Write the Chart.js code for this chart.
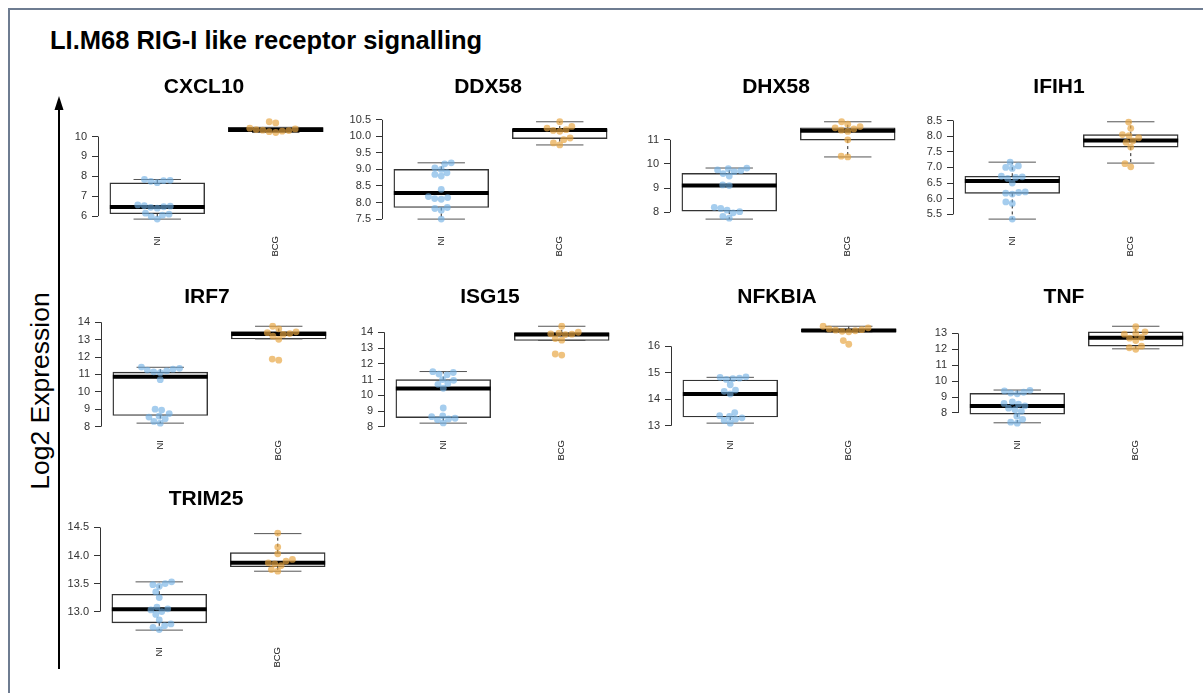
<!DOCTYPE html>
<html>
<head>
<meta charset="utf-8">
<script src="https://cdn.jsdelivr.net/npm/chart.js@4.4.1/dist/chart.umd.min.js"></script>
<style>
  body { margin: 0; background: #fff; width: 1203px; height: 693px; overflow: hidden; position: relative; font-family: "Liberation Sans", Arial, sans-serif; }
  #frame { position: absolute; left: 8px; top: 8px; width: 1220px; height: 720px; border-left: 2px solid #6e7c91; border-top: 2px solid #6e7c91; }
  #title { position: absolute; left: 50px; top: 28px; font-weight: bold; font-size: 25.5px; line-height: 1; white-space: nowrap; }
  #ylab { position: absolute; left: 40px; top: 391px; font-size: 26.5px; white-space: nowrap; transform: translate(-50%, -50%) rotate(-90deg); }
  #arrow { position: absolute; left: 0; top: 0; }
  canvas { position: absolute; }
</style>
</head>
<body>
<div id="frame"></div>
<div id="title">LI.M68 RIG-I like receptor signalling</div>
<div id="ylab">Log2 Expression</div>
<svg id="arrow" width="100" height="693">
  <line x1="59" y1="669" x2="59" y2="106" stroke="#000" stroke-width="2"/>
  <polygon points="59,96 54.5,110 63.5,110" fill="#000"/>
</svg>
<script>
// groups and genes
const groups = ['NI', 'BCG'];
const genes = ['CXCL10', 'DDX58', 'DHX58', 'IFIH1', 'IRF7', 'ISG15', 'NFKBIA', 'TNF', 'TRIM25'];

// y tick labels per gene
const yTickLabels = [
  ['6', '7', '8', '9', '10'],
  ['7.5', '8.0', '8.5', '9.0', '9.5', '10.0', '10.5'],
  ['8', '9', '10', '11'],
  ['5.5', '6.0', '6.5', '7.0', '7.5', '8.0', '8.5'],
  ['8', '9', '10', '11', '12', '13', '14'],
  ['8', '9', '10', '11', '12', '13', '14'],
  ['13', '14', '15', '16'],
  ['8', '9', '10', '11', '12', '13'],
  ['13.0', '13.5', '14.0', '14.5']
];

// individual samples (log2 expression)
const niValues = [
  [7.84, 7.80, 7.78, 7.75, 7.68, 6.56, 6.52, 6.50, 6.47, 6.44, 6.40, 6.15, 6.10, 6.05, 5.98, 5.85],
  [9.20, 9.17, 9.05, 9.00, 8.90, 8.85, 8.80, 8.40, 8.18, 8.15, 8.12, 8.10, 7.85, 7.82, 7.77, 7.50],
  [9.83, 9.80, 9.75, 9.72, 9.68, 9.60, 9.50, 9.13, 9.10, 8.20, 8.15, 8.08, 8.02, 7.97, 7.82, 7.75],
  [7.17, 7.05, 7.00, 6.97, 6.72, 6.70, 6.68, 6.65, 6.50, 6.22, 6.20, 6.18, 6.15, 5.90, 5.85, 5.35],
  [11.42, 11.35, 11.30, 11.25, 11.20, 11.15, 11.10, 10.70, 9.00, 8.95, 8.75, 8.60, 8.55, 8.45, 8.30, 8.20],
  [11.50, 11.45, 11.35, 11.30, 11.00, 10.95, 10.75, 10.70, 10.45, 9.20, 8.70, 8.65, 8.55, 8.50, 8.45, 8.25],
  [14.85, 14.83, 14.80, 14.78, 14.75, 14.55, 14.35, 14.30, 14.20, 13.50, 13.38, 13.35, 13.30, 13.25, 13.20, 13.10],
  [9.42, 9.38, 9.30, 9.25, 9.20, 8.70, 8.60, 8.55, 8.45, 8.30, 8.20, 8.10, 7.80, 7.60, 7.42, 7.36],
  [13.53, 13.50, 13.48, 13.45, 13.35, 13.25, 13.08, 13.05, 13.03, 13.00, 12.95, 12.85, 12.78, 12.75, 12.72, 12.68]
];
const bcgValues = [
  [10.74, 10.68, 10.42, 10.38, 10.35, 10.32, 10.30, 10.27, 10.24, 10.20],
  [10.44, 10.30, 10.25, 10.20, 10.18, 10.15, 9.95, 9.90, 9.80, 9.74],
  [11.75, 11.65, 11.55, 11.50, 11.45, 11.40, 11.35, 11.00, 10.32, 10.29],
  [8.45, 8.25, 8.05, 8.02, 7.95, 7.85, 7.80, 7.65, 7.12, 7.02],
  [13.77, 13.62, 13.45, 13.40, 13.35, 13.30, 13.20, 13.02, 11.88, 11.82],
  [14.38, 14.00, 13.95, 13.90, 13.88, 13.85, 13.60, 13.50, 12.62, 12.55],
  [16.76, 16.70, 16.66, 16.63, 16.61, 16.59, 16.57, 16.55, 16.22, 16.08],
  [13.42, 13.10, 13.00, 12.95, 12.75, 12.70, 12.55, 12.20, 12.10, 12.00],
  [14.40, 14.15, 14.03, 13.93, 13.90, 13.87, 13.85, 13.82, 13.75, 13.72]
];

// box stats: [lower whisker, Q1, median, Q3, upper whisker]
const niBox = [
  [5.85, 6.12, 6.46, 7.67, 7.84],
  [7.50, 7.85, 8.29, 9.00, 9.20],
  [7.71, 8.04, 9.10, 9.61, 9.83],
  [5.35, 6.17, 6.57, 6.72, 7.17],
  [8.20, 8.64, 10.86, 11.13, 11.41],
  [8.24, 8.59, 10.44, 11.00, 11.51],
  [13.10, 13.33, 14.20, 14.73, 14.83],
  [7.38, 7.93, 8.43, 9.23, 9.44],
  [12.67, 12.80, 13.04, 13.31, 13.53]
];
const bcgBox = [
  [10.20, 10.24, 10.33, 10.46, 10.46],
  [9.74, 9.93, 10.19, 10.22, 10.44],
  [10.29, 10.99, 11.38, 11.50, 11.75],
  [7.14, 7.65, 7.86, 8.05, 8.46],
  [13.04, 13.04, 13.33, 13.47, 13.77],
  [13.48, 13.48, 13.86, 13.96, 14.38],
  [16.55, 16.56, 16.60, 16.65, 16.76],
  [12.03, 12.20, 12.72, 13.10, 13.45],
  [13.72, 13.80, 13.87, 14.05, 14.39]
];

// layout of the 4x3 grid
const panelLeft = [98, 382, 670, 952.5, 100.5, 384, 671, 958, 100];
const rowPlotTop = [118, 322, 529];
const rowTitleBase = [95, 304.5, 506.7];
const PLOT_H = 105, UNIT_X = 118.5, AXIS_W = 50, TITLE_OFF = 106, XAXIS_H = 45;
const TITLE_SIZE = 21;
const FONT = '"Liberation Sans", Arial, sans-serif';

// simple beeswarm: place each point as close to the centre as possible without overlap
function swarm(values, pxPerUnit, d) {
  const order = values.map((v, i) => i).sort((a, b) => values[a] - values[b]);
  const placed = [];
  const off = new Array(values.length);
  order.forEach(i => {
    const y = values[i] * pxPerUnit;
    const blocks = [];
    placed.forEach(p => {
      const dy = Math.abs(p.y - y);
      if (dy < d) {
        const w = Math.sqrt(d * d - dy * dy);
        blocks.push([p.x - w, p.x + w]);
      }
    });
    const cands = [0];
    blocks.forEach(b => cands.push(b[0], b[1]));
    cands.sort((a, b) => Math.abs(a) - Math.abs(b) || a - b);
    const x = cands.find(c => blocks.every(b => c <= b[0] + 1e-9 || c >= b[1] - 1e-9));
    placed.push({ x, y });
    off[i] = x;
  });
  return off;
}

const boxPlugin = {
  id: 'boxes',
  beforeDatasetsDraw(chart) {
    // R style axis line, only between first and last tick
    const y = chart.scales.y;
    const ticks = y.ticks;
    const ctx = chart.ctx;
    ctx.save();
    ctx.strokeStyle = '#333';
    ctx.lineWidth = 1;
    const x0 = Math.round(chart.chartArea.left) + 0.5;
    ctx.beginPath();
    ctx.moveTo(x0, y.getPixelForValue(ticks[0].value));
    ctx.lineTo(x0, y.getPixelForValue(ticks[ticks.length - 1].value));
    ctx.stroke();
    ctx.restore();
  },
  afterDatasetDraw(chart, args) {
    if (args.meta.type !== 'bar') return;
    const xs = chart.scales.x, ys = chart.scales.y, ctx = chart.ctx;
    const stats = chart.options.plugins.boxes.stats;
    ctx.save();
    stats.forEach((s, g) => {
      const cx = xs.getPixelForValue(g + 1);
      const half = xs.getPixelForValue(g + 1.4) - cx;
      const [lo, q1, med, q3, hi] = s.map(v => ys.getPixelForValue(v));
      // whiskers
      ctx.strokeStyle = '#222';
      ctx.lineWidth = 1;
      ctx.setLineDash([3, 3]);
      ctx.beginPath();
      ctx.moveTo(cx, q3); ctx.lineTo(cx, hi);
      ctx.moveTo(cx, q1); ctx.lineTo(cx, lo);
      ctx.stroke();
      ctx.setLineDash([]);
      // staples
      ctx.strokeStyle = '#555';
      ctx.beginPath();
      ctx.moveTo(cx - half / 2, hi); ctx.lineTo(cx + half / 2, hi);
      ctx.moveTo(cx - half / 2, lo); ctx.lineTo(cx + half / 2, lo);
      ctx.stroke();
      // median
      ctx.strokeStyle = '#000';
      ctx.lineWidth = 4;
      ctx.beginPath();
      ctx.moveTo(cx - half, med); ctx.lineTo(cx + half, med);
      ctx.stroke();
    });
    ctx.restore();
  }
};

genes.forEach((gene, k) => {
  const row = Math.floor(k / 4);
  const labels = yTickLabels[k];
  const tickVals = labels.map(Number);
  const all = niValues[k].concat(bcgValues[k], niBox[k], bcgBox[k]);
  const dmin = Math.min(...all), dmax = Math.max(...all);
  const ext = (dmax - dmin) * 0.04;
  const ymin = dmin - ext, ymax = dmax + ext;
  const pxY = PLOT_H / (ymax - ymin);

  const canvasTop = rowTitleBase[row] - 0.3465 * TITLE_SIZE - TITLE_SIZE * 0.6;
  const titlePadBottom = rowPlotTop[row] - canvasTop - TITLE_SIZE * 1.2;
  const width = 2 * (TITLE_OFF + AXIS_W);
  const rightW = width - AXIS_W - 2 * UNIT_X;
  const height = Math.round(TITLE_SIZE * 1.2 + titlePadBottom + PLOT_H + XAXIS_H);

  const canvas = document.createElement('canvas');
  canvas.width = width;
  canvas.height = height;
  canvas.style.left = (panelLeft[k] - AXIS_W) + 'px';
  canvas.style.top = canvasTop + 'px';
  document.body.appendChild(canvas);

  const niOff = swarm(niValues[k], pxY, 6.6);
  const bcgOff = swarm(bcgValues[k], pxY, 6.6);

  new Chart(canvas, {
    type: 'scatter',
    data: {
      datasets: [
        {
          type: 'scatter', label: 'NI', order: 0,
          data: niValues[k].map((v, i) => ({ x: 1 + niOff[i] / UNIT_X, y: v })),
          pointRadius: 3.4, pointBorderWidth: 0,
          pointBackgroundColor: 'rgba(110, 175, 228, 0.62)'
        },
        {
          type: 'scatter', label: 'BCG', order: 0,
          data: bcgValues[k].map((v, i) => ({ x: 2 + bcgOff[i] / UNIT_X, y: v })),
          pointRadius: 3.4, pointBorderWidth: 0,
          pointBackgroundColor: 'rgba(232, 165, 65, 0.68)'
        },
        {
          type: 'bar', label: 'box', order: 1,
          data: [{ x: 1, y: [niBox[k][1], niBox[k][3]] }, { x: 2, y: [bcgBox[k][1], bcgBox[k][3]] }],
          barThickness: 0.8 * UNIT_X,
          backgroundColor: '#fff', borderColor: '#333', borderWidth: 1.4, borderSkipped: false
        }
      ]
    },
    options: {
      responsive: false,
      animation: false,
      devicePixelRatio: 1,
      layout: { padding: 0 },
      plugins: {
        legend: { display: false },
        tooltip: { enabled: false },
        title: {
          display: true, text: gene, color: '#000',
          font: { family: FONT, size: TITLE_SIZE, weight: 'bold', lineHeight: 1.2 },
          padding: { top: 0, bottom: titlePadBottom }
        },
        boxes: { stats: [niBox[k], bcgBox[k]] }
      },
      scales: {
        x: {
          type: 'linear', min: 0.5, max: 2.5, offset: false,
          afterBuildTicks: s => { s.ticks = [{ value: 1 }, { value: 2 }]; },
          afterFit: s => { s.height = XAXIS_H; },
          ticks: {
            callback: (v, i) => groups[i],
            minRotation: 90, maxRotation: 90, autoSkip: false, padding: 13,
            color: '#222', font: { family: FONT, size: 9.5 }
          },
          grid: { display: false, drawTicks: false, offset: false },
          border: { display: false }
        },
        y: {
          min: ymin, max: ymax,
          afterBuildTicks: s => { s.ticks = tickVals.map(v => ({ value: v })); },
          afterFit: s => { s.width = AXIS_W; },
          ticks: {
            callback: (v, i) => labels[i],
            autoSkip: false, padding: 5,
            color: '#333', font: { family: FONT, size: 11 }
          },
          grid: { drawOnChartArea: false, drawTicks: true, tickLength: 6, color: '#333' },
          border: { display: false }
        },
        // empty right margin so the panel title sits where it does in the original
        yRight: {
          type: 'linear', position: 'right', min: ymin, max: ymax,
          afterFit: s => { s.width = rightW; },
          ticks: { display: false },
          grid: { display: false },
          border: { display: false }
        }
      }
    },
    plugins: [boxPlugin]
  });
});
</script>
</body>
</html>
